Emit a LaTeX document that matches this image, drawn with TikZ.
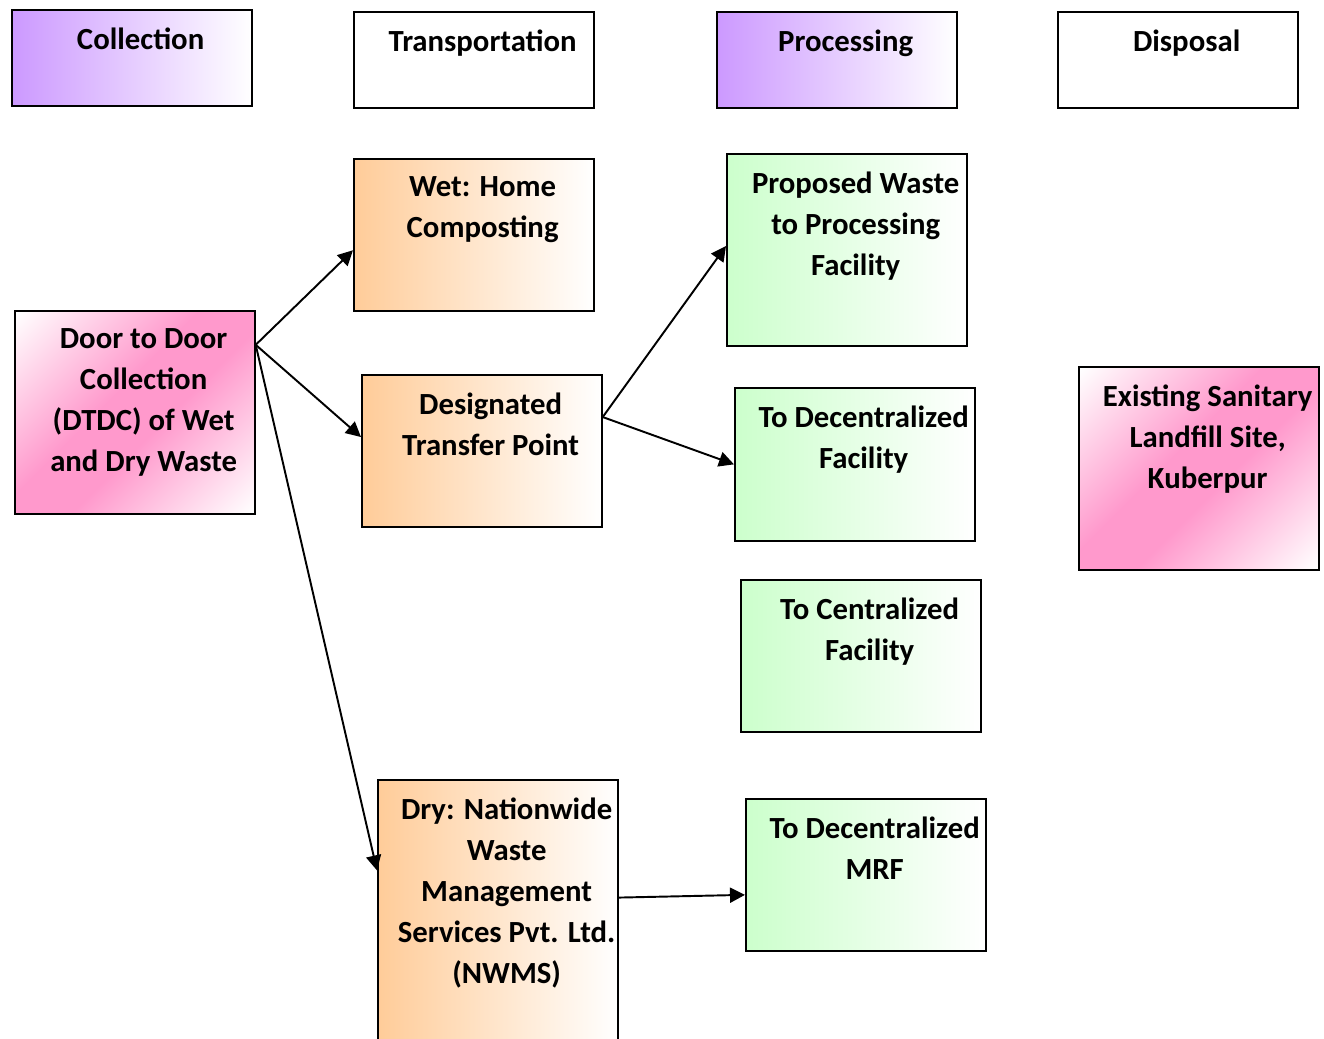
\documentclass[tikz,border=0pt]{standalone}
\usepackage{fontspec}
\setmainfont{Carlito}
\usepackage{tikz}
\usetikzlibrary{arrows.meta,positioning,calc}
\definecolor{lav}{HTML}{CC99FF}
\definecolor{peach}{HTML}{FFCC99}
\definecolor{mint}{HTML}{CCFFCC}
\definecolor{rose}{HTML}{FF99CC}
\pgfdeclarehorizontalshading{roseband}{100bp}{color(0bp)=(white);color(15bp)=(white);color(44bp)=(rose);color(56bp)=(rose);color(85bp)=(white);color(100bp)=(white)}

\begin{document}
\begin{tikzpicture}[x=0.02cm,y=-0.02cm,
  box/.style={draw,line width=1pt,anchor=north west,minimum width=4.8cm,minimum height=3.04cm,inner sep=0pt},
  head/.style={box,minimum height=1.92cm},
  txt/.style={font=\fontsize{17.5}{23.3}\selectfont\bfseries,align=center,inner sep=0pt,anchor=north,yshift=-6.4pt,xshift=5pt,execute at begin node=\strut},
  txtm/.style={txt,yshift=-4pt},
  lavfill/.style={left color=lav,right color=white},
  peachfill/.style={left color=peach,right color=white},
  mintfill/.style={left color=mint,right color=white},
  rosefill/.style={shading=roseband,shading angle=-45},
  arr/.style={-{Triangle[length=3mm,width=3mm]},line width=1.1pt}]
\useasboundingbox (0,0) rectangle (1324,1038);
\clip (0,0) rectangle (1324,1038);
% stage headings
\node[head,lavfill,label={[txt]north:{Collection}}] (coll) at (11,9) {};
\node[head,label={[txt]north:{Transportation}}] (trans) at (353,11) {};
\node[head,lavfill,label={[txt]north:{Processing}}] (proc) at (716,11) {};
\node[head,label={[txt]north:{Disposal}}] (disp) at (1057,11) {};
% flow boxes
\node[box,rosefill,minimum height=4.06cm,label={[txtm]north:{Door to Door\\Collection\\(DTDC) of Wet\\and Dry Waste}}] (dtdc) at (14,310) {};
\node[box,peachfill,label={[txtm]north:{Wet: Home\\Composting}}] (wet) at (353,158) {};
\node[box,peachfill,label={[txtm]north:{Designated\\Transfer Point}}] (desig) at (361,374) {};
\node[box,peachfill,minimum height=6cm,label={[txtm]north:{Dry: Nationwide\\Waste\\Management\\Services Pvt. Ltd.\\(NWMS)}}] (nwms) at (377,779) {};
\node[box,mintfill,minimum height=3.84cm,label={[txtm]north:{Proposed Waste\\to Processing\\Facility}}] (prop) at (726,153) {};
\node[box,mintfill,minimum height=3.06cm,label={[txtm]north:{To Decentralized\\Facility}}] (decfac) at (734,387) {};
\node[box,mintfill,label={[txtm]north:{To Centralized\\Facility}}] (cent) at (740,579) {};
\node[box,mintfill,label={[txtm]north:{To Decentralized\\MRF}}] (mrf) at (745,798) {};
\node[box,rosefill,minimum height=4.06cm,label={[txtm]north:{Existing Sanitary\\Landfill Site,\\Kuberpur}}] (landfill) at (1078,366) {};
% connectors
\coordinate (dtdc-out) at ($(dtdc.north east)!0.17!(dtdc.south east)$);
\coordinate (desig-out) at ($(desig.north east)!0.28!(desig.south east)$);
\draw[arr] (dtdc-out) -- ($(wet.north west)!0.6!(wet.south west)$);
\draw[arr] (dtdc-out) -- ($(desig.north west)!0.41!(desig.south west)$);
\draw[arr] (dtdc-out) -- ($(nwms.north west)!0.303!(nwms.south west)$);
\draw[arr] (desig-out) -- ($(prop.north west)!0.48!(prop.south west)$);
\draw[arr] (desig-out) -- ($(decfac.north west)!0.5!(decfac.south west)$);
\draw[arr] ($(nwms.north east)!0.393!(nwms.south east)$) -- ($(mrf.north west)!0.63!(mrf.south west)$);
\end{tikzpicture}
\end{document}
